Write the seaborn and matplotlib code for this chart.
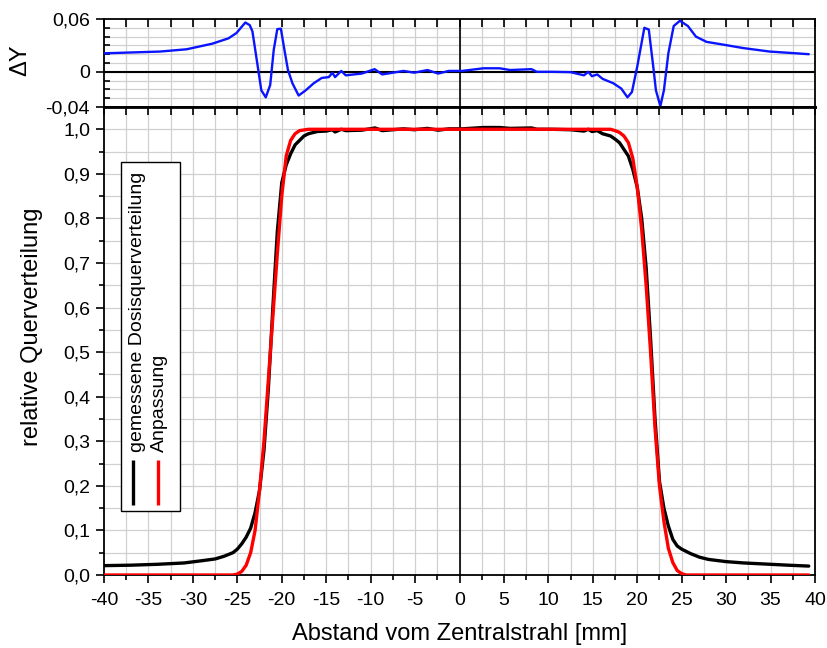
import numpy as np
import pandas as pd
import matplotlib
matplotlib.use("Agg")
import matplotlib.pyplot as plt
from matplotlib.ticker import MultipleLocator, FixedLocator, FuncFormatter
import seaborn as sns

# ---------------- data ----------------
x_meas = [-40, -37, -34, -31, -29, -27.5, -26.5, -25.5, -25, -24.5, -24, -23.5, -23, -22.5,
          -22, -21.5, -21, -20.5, -20, -19.5, -19, -18.5, -18, -17.5, -17, -16, -15, -14.3,
          -14, -13.3, -12.8, -11, -9.5, -8.7, -6.3, -5.1, -3.6, -2.4, -1.2, 0.3, 2.7, 4.5,
          5.7, 8.1, 8.7, 10.4, 12.5, 14, 14.5, 14.9, 15.5, 16.1, 17, 17.5, 18, 18.5, 19,
          19.5, 20, 20.5, 21, 21.5, 22, 22.5, 23, 23.5, 24, 24.5, 25, 26, 27, 28, 30, 32,
          35, 37, 39.3]
y_meas = [0.021, 0.022, 0.024, 0.027, 0.032, 0.036, 0.042, 0.05, 0.058, 0.07, 0.085, 0.105,
          0.14, 0.19, 0.28, 0.42, 0.6, 0.77, 0.88, 0.92, 0.945, 0.965, 0.975, 0.985, 0.99,
          0.995, 0.996, 0.999, 0.994, 1.0, 0.997, 0.998, 1.003, 0.997, 1.001, 0.999, 1.002,
          0.998, 1.001, 1.001, 1.004, 1.004, 1.002, 1.003, 1.0, 1.0, 0.999, 0.996, 1.0,
          0.995, 0.997, 0.99, 0.985, 0.978, 0.97, 0.955, 0.94, 0.91, 0.87, 0.80, 0.69, 0.53,
          0.35, 0.21, 0.15, 0.11, 0.08, 0.065, 0.058, 0.048, 0.04, 0.035, 0.03, 0.027,
          0.024, 0.022, 0.02]

x_fit = [-40, -25.5, -25, -24.5, -24, -23.5, -23, -22.5, -22, -21.5, -21, -20.5, -20, -19.5,
         -19, -18.5, -18, -17, 0, 17, 17.5, 18, 18.5, 19, 19.5, 20, 20.5, 21, 21.5, 22,
         22.5, 23, 23.5, 24, 24.5, 25, 25.5, 39.3]
y_fit = [0.0, 0.0, 0.002, 0.008, 0.022, 0.05, 0.1, 0.19, 0.3, 0.44, 0.58, 0.72, 0.85, 0.94,
         0.975, 0.99, 0.997, 1.0, 1.0, 1.0, 0.997, 0.993, 0.985, 0.97, 0.935, 0.87, 0.775,
         0.65, 0.5, 0.33, 0.2, 0.12, 0.06, 0.028, 0.01, 0.003, 0.0, 0.0]

x_diff = [-40, -33.7, -30.7, -27.8, -26, -25.1, -24.1, -23.6, -23.3, -22.7, -22.3, -21.8,
          -21.3, -20.9, -20.5, -20.1, -19.7, -19.3, -18.8, -18.1, -17.3, -16.4, -15.5,
          -14.7, -14.3, -14.0, -13.3, -12.8, -11.0, -9.55, -8.7, -6.3, -5.1, -3.6, -2.4,
          -1.2, 0.3, 2.7, 4.5, 5.7, 8.1, 8.7, 10.4, 12.5, 14.0, 14.5, 14.9, 15.5, 16.1,
          17.3, 18.2, 18.9, 19.4, 20.0, 20.8, 21.3, 21.8, 22.1, 22.6, 23.0, 23.5, 24.1,
          24.8, 25.7, 26.6, 27.8, 29.6, 31.9, 34.9, 37.9, 39.3]
y_diff = [0.021, 0.023, 0.0256, 0.032, 0.038, 0.044, 0.056, 0.053, 0.046, 0.006, -0.021,
          -0.029, -0.015, 0.025, 0.0485, 0.049, 0.025, 0.002, -0.013, -0.027, -0.021,
          -0.013, -0.007, -0.006, -0.001, -0.006, 0.001, -0.004, -0.002, 0.003, -0.003,
          0.001, -0.001, 0.002, -0.002, 0.001, 0.001, 0.004, 0.004, 0.002, 0.003, 0.0,
          0.0, -0.0004, -0.004, 0.0, -0.005, -0.003, -0.008, -0.013, -0.019, -0.029,
          -0.023, 0.006, 0.050, 0.048, 0.006, -0.021, -0.039, -0.021, 0.021, 0.052, 0.058,
          0.052, 0.040, 0.034, 0.031, 0.027, 0.023, 0.021, 0.020]

legend_labels = ["gemessene Dosisquerverteilung", "Anpassung"]
x_label = "Abstand vom Zentralstrahl [mm]"
y_label = "relative Querverteilung"
y_label_top = "ΔY"

# ---------------- style ----------------
sns.set_theme(style="white")
plt.rcParams["font.family"] = ["Liberation Sans", "DejaVu Sans"]
plt.rcParams["axes.unicode_minus"] = False

TICK_FS = 14
LABEL_FS = 17

fig = plt.figure(figsize=(8.27, 6.48), dpi=100)
W, H = 827, 648
left, right = 104 / W, 815 / W
ax_top = fig.add_axes([left, 1 - 107 / H, right - left, (107 - 19) / H])
ax = fig.add_axes([left, 1 - 575 / H, right - left, (575 - 107) / H], sharex=ax_top)

grid_kw = dict(color="#d0d0d0", lw=0.9, zorder=0)

def comma_fmt(nd):
    def f(v, pos):
        if abs(v) < 1e-12:
            return "0" if nd == "top" else "0,0"
        s = f"{v:.2f}" if nd == "top" else f"{v:.1f}"
        return s.replace(".", ",")
    return FuncFormatter(f)

# ---------- bottom panel ----------
df_meas = pd.DataFrame({"x": x_meas, "y": y_meas})
df_fit = pd.DataFrame({"x": x_fit, "y": y_fit})
for v in np.arange(-37.5, 40, 2.5):
    ax.axvline(v, **grid_kw)
for v in np.arange(0.05, 1.05, 0.05):
    ax.axhline(v, **grid_kw)
ax.axvline(0, color="black", lw=1.2, zorder=1)
sns.lineplot(data=df_meas, x="x", y="y", ax=ax, color="black", lw=2.4,
             estimator=None, sort=False, zorder=3)
sns.lineplot(data=df_fit, x="x", y="y", ax=ax, color="#ff0000", lw=2.4,
             estimator=None, sort=False, zorder=4)
ax.set_xlim(-40, 40)
ax.set_ylim(0, 1.05)
ax.xaxis.set_major_locator(MultipleLocator(5))
ax.xaxis.set_minor_locator(MultipleLocator(2.5))
ax.yaxis.set_major_locator(FixedLocator(np.round(np.arange(0, 1.01, 0.1), 2)))
ax.yaxis.set_minor_locator(FixedLocator(np.round(np.arange(0.05, 1.0, 0.1), 2)))
ax.yaxis.set_major_formatter(comma_fmt("bot"))
ax.xaxis.set_major_formatter(FuncFormatter(lambda v, p: f"{v:.0f}"))
ax.tick_params(axis="both", which="major", direction="out", length=6, width=1.2,
               labelsize=TICK_FS, color="black", labelcolor="black", bottom=True,
               left=True, top=False, pad=4)
ax.tick_params(axis="both", which="minor", direction="out", length=3.5, width=1.2,
               color="black", bottom=True, left=True, top=False)
ax.tick_params(axis="x", which="major", pad=6)
ax.set_xlabel(x_label, fontsize=LABEL_FS, color="black", labelpad=10)
ax.set_ylabel(y_label, fontsize=LABEL_FS, color="black")
ax.yaxis.set_label_coords(-0.086, 0.531)
for s in ax.spines.values():
    s.set_color("black")
    s.set_linewidth(1.3)
ax.spines["top"].set_linewidth(2.0)

# inward ticks on top edge of the bottom panel
sec = ax.secondary_xaxis("top")
sec.set_xticks(np.arange(-40, 40.1, 2.5))
sec.tick_params(direction="in", length=6, width=1.2, labeltop=False, color="black")
sec.spines["top"].set_visible(False)

# manual legend (vertical)
leg = plt.Rectangle((0.0239, 0.137), 0.083, 0.745, transform=ax.transAxes,
                    facecolor="white", edgecolor="black", lw=1.0, zorder=5)
ax.add_patch(leg)
ax.plot([0.0405, 0.0405], [0.15, 0.245], transform=ax.transAxes, color="black",
        lw=2.4, zorder=6, solid_capstyle="butt")
ax.plot([0.0755, 0.0755], [0.15, 0.245], transform=ax.transAxes, color="#ff0000",
        lw=2.4, zorder=6, solid_capstyle="butt")
ax.text(0.0470, 0.262, legend_labels[0], rotation=90, transform=ax.transAxes,
        ha="center", va="bottom", fontsize=14, color="black", zorder=6)
ax.text(0.0785, 0.262, legend_labels[1], rotation=90, transform=ax.transAxes,
        ha="center", va="bottom", fontsize=14, color="black", zorder=6)

# ---------- top panel ----------
df_diff = pd.DataFrame({"x": x_diff, "y": y_diff})
for v in np.arange(-37.5, 40, 2.5):
    ax_top.axvline(v, **grid_kw)
for v in np.arange(-0.03, 0.06, 0.01):
    ax_top.axhline(v, **grid_kw)
ax_top.axvline(0, color="black", lw=1.2, zorder=1)
ax_top.axhline(0, color="black", lw=1.5, zorder=1)
sns.lineplot(data=df_diff, x="x", y="y", ax=ax_top, color="#0a14ff", lw=1.7,
             estimator=None, sort=False, zorder=3)
ax_top.set_ylim(-0.04, 0.06)
ax_top.yaxis.set_major_locator(FixedLocator([-0.04, 0.0, 0.06]))
ax_top.yaxis.set_minor_locator(FixedLocator(np.round(np.arange(-0.03, 0.06, 0.01), 2)))
ax_top.yaxis.set_major_formatter(comma_fmt("top"))
ax_top.tick_params(axis="y", which="major", direction="out", length=6, width=1.2,
                   labelsize=TICK_FS, color="black", labelcolor="black", left=True, pad=4)
ax_top.tick_params(axis="y", which="minor", direction="in", length=4, width=1.2,
                   color="black", left=True)
ax_top.tick_params(axis="x", which="both", bottom=False, labelbottom=False,
                   top=True, direction="in", length=6, width=1.2, color="black")
ax_top.xaxis.set_minor_locator(MultipleLocator(2.5))
ax_top.set_xlabel("")
ax_top.set_ylabel(y_label_top, fontsize=LABEL_FS, color="black")
ax_top.yaxis.set_label_coords(-0.103, 0.53)
for s in ax_top.spines.values():
    s.set_color("black")
    s.set_linewidth(1.3)
ax_top.spines["bottom"].set_linewidth(2.0)

fig.savefig("out.png", dpi=100, facecolor="white")
